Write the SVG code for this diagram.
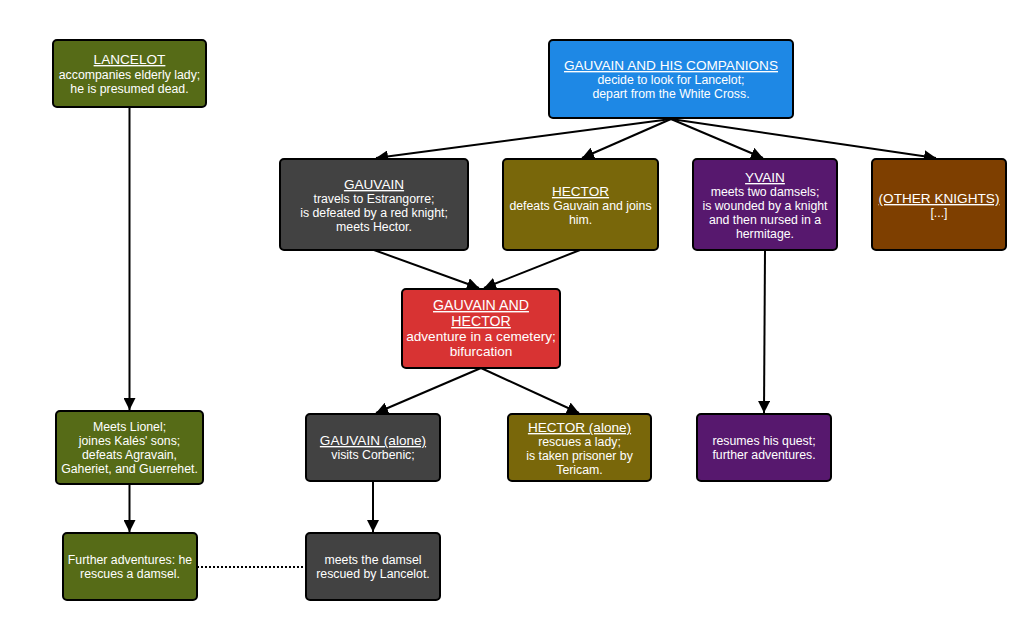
<svg xmlns="http://www.w3.org/2000/svg" width="1024" height="622" viewBox="0 0 1024 622">
<style>
.box{stroke:#000;stroke-width:2}
.t{font-family:"Liberation Sans",Arial,sans-serif;font-size:12.3px;fill:#fff;text-anchor:middle}
.h{font-size:13.6px;text-decoration:underline}
.big{font-size:13.6px}
.bigh{font-size:14.2px;text-decoration:underline}
.e{stroke:#000;stroke-width:2;fill:none}
.green{fill:#566b17}.blue{fill:#1e88e5}.grey{fill:#424242}.olive{fill:#79670a}.purple{fill:#57186e}.brown{fill:#7e3f00}.red{fill:#d83333}
</style>
<defs>
<marker id="arr" viewBox="0 0 10 10" refX="10" refY="5" markerWidth="6" markerHeight="6" orient="auto" markerUnits="strokeWidth">
<path d="M0,0 L10,5 L0,10 z" fill="#000"/>
</marker>
</defs>
<rect width="1024" height="622" fill="#fff"/>
<g id="edges">
<line class="e" x1="671" y1="119" x2="376" y2="158" marker-end="url(#arr)"/>
<line class="e" x1="671" y1="119" x2="582" y2="158" marker-end="url(#arr)"/>
<line class="e" x1="671" y1="119" x2="763" y2="158" marker-end="url(#arr)"/>
<line class="e" x1="671" y1="119" x2="936" y2="158" marker-end="url(#arr)"/>
<line class="e" x1="374" y1="250" x2="479" y2="288" marker-end="url(#arr)"/>
<line class="e" x1="580" y1="250" x2="484" y2="288" marker-end="url(#arr)"/>
<line class="e" x1="481" y1="368" x2="376" y2="413" marker-end="url(#arr)"/>
<line class="e" x1="481" y1="368" x2="579" y2="413" marker-end="url(#arr)"/>
<line class="e" x1="129.5" y1="107" x2="129.5" y2="410" marker-end="url(#arr)"/>
<line class="e" x1="129.5" y1="484" x2="129.5" y2="532" marker-end="url(#arr)"/>
<line class="e" x1="373" y1="481" x2="373" y2="532" marker-end="url(#arr)"/>
<line class="e" x1="765" y1="250" x2="764" y2="413" marker-end="url(#arr)"/>
<line class="e" x1="197" y1="567" x2="306" y2="567" stroke-dasharray="2,2"/>
</g>
<g id="lancelot">
<rect class="box green" x="53" y="40" width="153" height="67" rx="4"/>
<text class="t h" x="129.5" y="64">LANCELOT</text>
<text class="t" x="129.5" y="79">accompanies elderly lady;</text>
<text class="t" x="129.5" y="93">he is presumed dead.</text>
</g>
<g id="companions">
<rect class="box blue" x="549" y="40" width="244" height="78" rx="4"/>
<text class="t h" x="671" y="70">GAUVAIN AND HIS COMPANIONS</text>
<text class="t" x="671" y="84">decide to look for Lancelot;</text>
<text class="t" x="671" y="98">depart from the White Cross.</text>
</g>
<g id="gauvain">
<rect class="box grey" x="280" y="159" width="188" height="91" rx="4"/>
<text class="t h" x="374" y="189">GAUVAIN</text>
<text class="t" x="374" y="203">travels to Estrangorre;</text>
<text class="t" x="374" y="217">is defeated by a red knight;</text>
<text class="t" x="374" y="231">meets Hector.</text>
</g>
<g id="hector">
<rect class="box olive" x="503" y="159" width="155" height="91" rx="4"/>
<text class="t h" x="580.5" y="196">HECTOR</text>
<text class="t" x="580.5" y="210">defeats Gauvain and joins</text>
<text class="t" x="580.5" y="224">him.</text>
</g>
<g id="yvain">
<rect class="box purple" x="693" y="159" width="144" height="91" rx="4"/>
<text class="t h" x="765" y="182">YVAIN</text>
<text class="t" x="765" y="196">meets two damsels;</text>
<text class="t" x="765" y="210">is wounded by a knight</text>
<text class="t" x="765" y="224">and then nursed in a</text>
<text class="t" x="765" y="238">hermitage.</text>
</g>
<g id="others">
<rect class="box brown" x="872" y="159" width="134" height="91" rx="4"/>
<text class="t h" x="939" y="203">(OTHER KNIGHTS)</text>
<text class="t" x="939" y="217">[...]</text>
</g>
<g id="gauvain-hector">
<rect class="box red" x="402" y="289" width="158" height="79" rx="4"/>
<text class="t bigh" x="481" y="310">GAUVAIN AND </text>
<text class="t bigh" x="481" y="326">HECTOR</text>
<text class="t big" x="481" y="341">adventure in a cemetery;</text>
<text class="t big" x="481" y="356">bifurcation</text>
</g>
<g id="lionel">
<rect class="box green" x="56" y="411" width="147" height="73" rx="4"/>
<text class="t" x="129.5" y="431">Meets Lionel;</text>
<text class="t" x="129.5" y="445">joines Kalés' sons;</text>
<text class="t" x="129.5" y="459">defeats Agravain,</text>
<text class="t" x="129.5" y="473">Gaheriet, and Guerrehet.</text>
</g>
<g id="further">
<rect class="box green" x="63" y="533" width="134" height="67" rx="4"/>
<text class="t" x="130" y="564">Further adventures: he</text>
<text class="t" x="130" y="578">rescues a damsel.</text>
</g>
<g id="gauvain-alone">
<rect class="box grey" x="306" y="414" width="134" height="67" rx="4"/>
<text class="t h" x="373" y="445">GAUVAIN (alone)</text>
<text class="t" x="373" y="459">visits Corbenic;</text>
</g>
<g id="hector-alone">
<rect class="box olive" x="508" y="414" width="143" height="67" rx="4"/>
<text class="t h" x="579.5" y="432">HECTOR (alone)</text>
<text class="t" x="579.5" y="446">rescues a lady;</text>
<text class="t" x="579.5" y="460">is taken prisoner by</text>
<text class="t" x="579.5" y="474">Tericam.</text>
</g>
<g id="yvain-resumes">
<rect class="box purple" x="697" y="414" width="134" height="67" rx="4"/>
<text class="t" x="764" y="445">resumes his quest;</text>
<text class="t" x="764" y="459">further adventures.</text>
</g>
<g id="damsel">
<rect class="box grey" x="306" y="533" width="134" height="67" rx="4"/>
<text class="t" x="373" y="564">meets the damsel</text>
<text class="t" x="373" y="578">rescued by Lancelot.</text>
</g>
</svg>
